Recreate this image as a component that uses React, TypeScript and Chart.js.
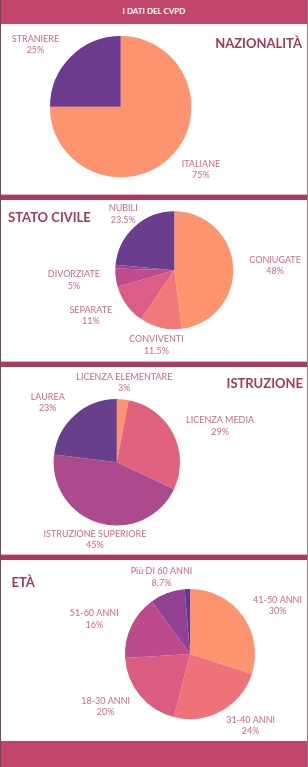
import React, { useEffect, useRef } from "react";
import { Chart, registerables } from "chart.js";

Chart.register(...registerables);

// ---- data ----
const nazionalitaLabels = ["ITALIANE", "STRANIERE"];
const nazionalitaValues = [75, 25];

const statoCivileLabels = ["CONIUGATE", "CONVIVENTI", "SEPARATE", "DIVORZIATE", "", "NUBILI"];
const statoCivileValues = [48, 11.5, 11, 5, 1, 23.5];

const istruzioneLabels = ["LICENZA ELEMENTARE", "LICENZA MEDIA", "ISTRUZIONE SUPERIORE", "LAUREA"];
const istruzioneValues = [3, 29, 45, 23];

const etaLabels = ["41-50 ANNI", "31-40 ANNI", "18-30 ANNI", "51-60 ANNI", "Più DI 60 ANNI", ""];
const etaValues = [30, 24, 20, 16, 8.7, 1.3];

// ---- styles ----
const nazionalitaColors = ["#fe9370", "#6c3b90"];
const statoCivileColors = ["#fe9370", "#f07a79", "#dc5e86", "#bf4b8c", "#9a4590", "#6a3d8e"];
const istruzioneColors = ["#fe9370", "#e0627f", "#ab4a8d", "#673f8d"];
const etaColors = ["#fe9370", "#ef7179", "#da5c83", "#bd4a8b", "#934293", "#5c3a8f"];

// label placement: [radius factor, angle shift in degrees]
const nazionalitaPlace = [[1.44, -7], [1.49, -9]];
const statoCivilePlace = [[1.71, 1], [1.3, 0], [1.61, 7.5], [1.71, 1.7], [1.5, 0], [1.285, 0]];
const istruzionePlace = [[1.264, 0], [1.73, 7.8], [1.27, -0.4], [1.446, -7.7]];
const etaPlace = [[1.54, 7], [1.443, -11.5], [1.528, 7.7], [1.567, -5.2], [1.262, 0], [1.3, 0]];

const W = 308;
const LABEL_COLOR = "#d6668d";
const TITLE_COLOR = "#a53a5f";
const BAND = "#c1456a";
const SEP = "#a73c5e";
const FONT = "Lato, 'Open Sans', sans-serif";

type Cfg = {
  top: number;
  height: number;
  cx: number;
  cy: number;
  r: number;
  labels: string[];
  values: number[];
  colors: string[];
  place: number[][];
};

const labelPlugin = {
  id: "sliceLabels",
  afterDatasetsDraw(chart: any, _args: any, opts: any) {
    const ctx = chart.ctx;
    const meta = chart.getDatasetMeta(0);
    const labels: string[] = chart.data.labels;
    const values: number[] = chart.data.datasets[0].data;
    const place: number[][] = opts.place || [];
    ctx.save();
    ctx.font = "9px " + FONT;
    ctx.fillStyle = LABEL_COLOR;
    ctx.textAlign = "center";
    ctx.textBaseline = "middle";
    meta.data.forEach((arc: any, i: number) => {
      if (!labels[i]) return;
      const p = arc.getProps(["x", "y", "startAngle", "endAngle", "outerRadius"], true);
      const [f, shift] = place[i] || [1.4, 0];
      const a = (p.startAngle + p.endAngle) / 2 + (shift * Math.PI) / 180;
      const d = p.outerRadius * f;
      const x = p.x + Math.cos(a) * d;
      const y = p.y + Math.sin(a) * d;
      ctx.fillText(labels[i], x, y - 5.75);
      ctx.fillText(values[i] + "%", x, y + 5.75);
    });
    ctx.restore();
  },
};

function PieSection({ cfg }: { cfg: Cfg }) {
  const ref = useRef<HTMLCanvasElement | null>(null);
  useEffect(() => {
    if (!ref.current) return;
    const localCy = cfg.cy - cfg.top;
    const chart = new Chart(ref.current, {
      type: "pie",
      data: {
        labels: cfg.labels,
        datasets: [
          {
            data: cfg.values,
            backgroundColor: cfg.colors,
            borderWidth: 0,
          },
        ],
      },
      options: {
        responsive: false,
        maintainAspectRatio: false,
        animation: false,
        radius: cfg.r,
        layout: {
          padding: {
            left: cfg.cx - cfg.r,
            right: W - (cfg.cx + cfg.r),
            top: localCy - cfg.r,
            bottom: cfg.height - (localCy + cfg.r),
          },
        },
        plugins: {
          legend: { display: false },
          tooltip: { enabled: false },
          sliceLabels: { place: cfg.place },
        } as any,
      } as any,
      plugins: [labelPlugin],
    });
    return () => chart.destroy();
  }, []);
  return (
    <canvas
      ref={ref}
      width={W}
      height={cfg.height}
      style={{ position: "absolute", left: 0, top: cfg.top, width: W, height: cfg.height }}
    />
  );
}

const sections: Cfg[] = [
  { top: 24, height: 170, cx: 120.7, cy: 106.7, r: 70.7, labels: nazionalitaLabels, values: nazionalitaValues, colors: nazionalitaColors, place: nazionalitaPlace },
  { top: 200, height: 161, cx: 174.3, cy: 270.3, r: 59, labels: statoCivileLabels, values: statoCivileValues, colors: statoCivileColors, place: statoCivilePlace },
  { top: 367, height: 187, cx: 116.8, cy: 462.3, r: 63.2, labels: istruzioneLabels, values: istruzioneValues, colors: istruzioneColors, place: istruzionePlace },
  { top: 560, height: 181, cx: 190, cy: 654, r: 65, labels: etaLabels, values: etaValues, colors: etaColors, place: etaPlace },
];

const separators = [194, 361, 554];

const titleStyle: React.CSSProperties = {
  position: "absolute",
  fontFamily: FONT,
  fontWeight: 700,
  fontSize: 13,
  lineHeight: "16px",
  color: TITLE_COLOR,
  whiteSpace: "nowrap",
};

export default function App() {
  useEffect(() => {
    document.body.style.margin = "0";
  }, []);
  return (
    <div style={{ position: "absolute", left: 0, top: 0, width: W, height: 767, background: "#fff", overflow: "hidden" }}>
      <div
        style={{
          position: "absolute", left: 0, top: 0, width: W, height: 24, background: BAND,
          color: "#fff", fontFamily: FONT, fontWeight: 700, fontSize: 8, lineHeight: "22px", textAlign: "center",
        }}
      >
        I DATI DEL CVPD
      </div>
      {sections.map((s, i) => (
        <PieSection key={i} cfg={s} />
      ))}
      {separators.map((y, i) => (
        <React.Fragment key={i}>
          <div style={{ position: "absolute", left: 0, top: y, width: W, height: 1, background: "#e3b6c5" }} />
          <div style={{ position: "absolute", left: 0, top: y + 1, width: W, height: 5, background: SEP }} />
        </React.Fragment>
      ))}
      <div style={{ position: "absolute", left: 0, top: 741, width: W, height: 26, background: BAND }} />
      <div style={{ ...titleStyle, right: 6, top: 34.5 }}>NAZIONALITÀ</div>
      <div style={{ ...titleStyle, left: 8, top: 208.5 }}>STATO CIVILE</div>
      <div style={{ ...titleStyle, right: 5, top: 375 }}>ISTRUZIONE</div>
      <div style={{ ...titleStyle, left: 11.5, top: 574 }}>ETÀ</div>
      <div style={{ position: "absolute", left: 0, top: 0, width: 1, height: 767, background: "#6e4c5d" }} />
      <div style={{ position: "absolute", left: 307, top: 0, width: 1, height: 767, background: "#8e8088" }} />
    </div>
  );
}
